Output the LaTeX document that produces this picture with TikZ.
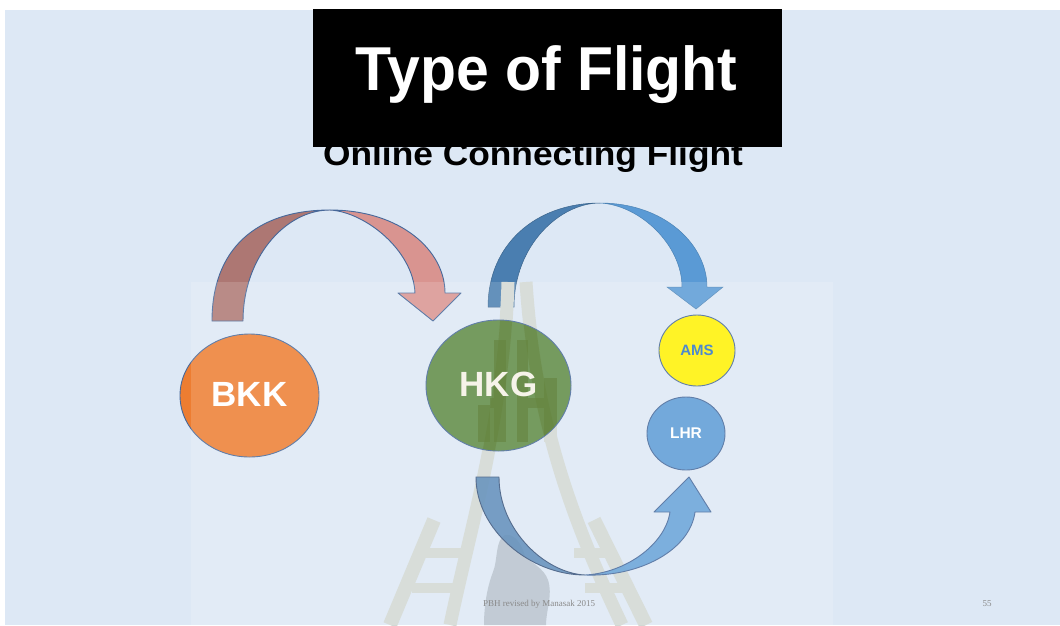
\documentclass[tikz,border=0pt]{standalone}
\usepackage{fontspec}
\setmainfont{Liberation Sans}
\newfontfamily\footfont{Liberation Serif}
\usetikzlibrary{shapes.geometric}
\definecolor{bg}{HTML}{DDE8F5}
\definecolor{redA}{HTML}{AD7773}
\definecolor{redB}{HTML}{D99490}
\definecolor{blueA}{HTML}{4A7EB0}
\definecolor{blueB}{HTML}{5A9AD5}
\definecolor{edge}{HTML}{46689A}
\definecolor{wm}{HTML}{D2D8D3}
\definecolor{darkbar}{HTML}{4A6E1C}
\definecolor{person}{HTML}{B8C3CE}
\definecolor{orangeC}{HTML}{ED7D31}
\definecolor{greenC}{HTML}{548235}
\definecolor{lhrC}{HTML}{5B9BD5}
\definecolor{amsT}{HTML}{2E75C6}
\definecolor{hkgT}{HTML}{F5F1E6}
\definecolor{footC}{HTML}{8A8A8A}
\tikzset{
  city/.style={ellipse, draw=edge, line width=0.9pt, inner sep=0pt, font=\bfseries},
  arrowpart/.style={draw=edge, line width=0.9pt, line join=round},
  rail/.style={draw=wm, line cap=butt},
  bar/.style={fill=wm}
}
\newcommand{\towerbars}{%
  \fill (478,405) rectangle (490,442);
  \fill (494,340) rectangle (506,442);
  \fill (517,340) rectangle (528,442);
  \fill (544,378) rectangle (557,442);
  \fill (490,398) rectangle (494,408);
  \fill (528,398) rectangle (544,408);
}
\begin{document}
\begin{tikzpicture}[x=1pt,y=-1pt]
\useasboundingbox (0,0) rectangle (1060,625);
\fill[white] (0,0) rectangle (1060,625);
\fill[bg] (5,10) rectangle (1060,625);

% subtitle (partly hidden by title box)
\node[anchor=base, inner sep=0pt, font=\bfseries\fontsize{33}{33}\selectfont] (sub) at (533,165) {\scalebox{1.07}[1]{Online Connecting Flight}};
% title box
\node[fill=black, minimum width=469pt, minimum height=138pt, inner sep=0pt] (titlebox) at (547.5,78) {};
\node[anchor=base, inner sep=0pt, text=white, font=\bfseries\fontsize{62}{62}\selectfont] (title) at (546.5,90) {\scalebox{0.95}[1]{Type of Flight}};

% red curved arrow BKK -> HKG
\path[arrowpart, fill=redA] (212,321) .. controls (212,250) and (255,210) .. (330,210)
   .. controls (285,210) and (243,258) .. (243,321) -- cycle;
\path[arrowpart, fill=redB] (330,210) .. controls (400,210) and (445,250) .. (445,293)
   -- (461,293) -- (433,321) -- (398,293) -- (415,293)
   .. controls (413,250) and (365,212) .. (330,210) -- cycle;

% upper blue arrow HKG -> AMS
\path[draw=blueA!80!black, line width=0.5pt, fill=blueA] (488,307) .. controls (488,245) and (535,203) .. (600,203)
   .. controls (560,203) and (514,245) .. (514,307) -- cycle;
\path[draw=blueB!85!black, line width=0.5pt, fill=blueB] (600,203) .. controls (665,203) and (707,245) .. (707,287)
   -- (723,287) -- (696,309) -- (667,287) -- (682,287)
   .. controls (682,245) and (640,205) .. (600,203) -- cycle;

% watermark tower
\draw[rail, line width=13pt] (508,282) .. controls (504,420) and (472,520) .. (450,625);
\draw[rail, line width=13pt] (526,282) .. controls (535,420) and (572,520) .. (622,625);
\draw[rail, line width=14pt] (434,520) -- (390,625);
\draw[rail, line width=14pt] (594,520) -- (646,625);
\draw[rail, line width=10pt] (425,553) -- (468,553);
\draw[rail, line width=10pt] (412,588) -- (460,588);
\draw[rail, line width=10pt] (574,553) -- (608,553);
\draw[rail, line width=10pt] (585,588) -- (626,588);
\begin{scope}[bar]
\towerbars
\end{scope}
% person silhouette
\fill[person] (505,535) .. controls (495,540) and (498,560) .. (493,572)
   .. controls (486,590) and (484,610) .. (484,625) -- (546,625)
   .. controls (546,610) and (553,595) .. (548,580)
   .. controls (544,568) and (530,562) .. (525,556)
   .. controls (522,545) and (515,533) .. (505,535) -- cycle;

% cities
\node[city, fill=orangeC, minimum width=139pt, minimum height=123pt, text=white, font=\bfseries\fontsize{35}{35}\selectfont] (bkk) at (249.5,395.5) {\raisebox{3pt}{BKK}};
\node[city, fill=greenC, fill opacity=0.92, text opacity=1, minimum width=145pt, minimum height=131pt] (hkg) at (498.5,385.5) {};
% tower seen through HKG
\begin{scope}
\clip (hkg.center) ellipse [x radius=72pt, y radius=65pt];
\begin{scope}[fill=darkbar, fill opacity=0.55]
\towerbars
\end{scope}
\draw[draw=darkbar, draw opacity=0.45, line width=12pt] (508,282) .. controls (504,420) and (472,520) .. (450,625);
\draw[draw=darkbar, draw opacity=0.45, line width=12pt] (526,282) .. controls (535,420) and (572,520) .. (622,625);
\end{scope}
\node[inner sep=0pt, text=hkgT, font=\bfseries\fontsize{35}{35}\selectfont] (hkgtext) at (hkg.center) {\raisebox{3pt}{HKG}};
\node[city, fill=yellow, minimum width=76pt, minimum height=71pt, text=amsT, font=\bfseries\fontsize{15}{15}\selectfont] (ams) at (697,350.5) {AMS};
\node[city, fill=lhrC, minimum width=78pt, minimum height=73pt, text=white, font=\bfseries\fontsize{15.5}{15.5}\selectfont] (lhr) at (686,433.5) {LHR};

% lower blue arrow HKG -> LHR
\path[arrowpart, draw=edge!80!black, fill=blueA, fill opacity=0.85] (476,477) .. controls (476,530) and (530,575) .. (585,575)
   .. controls (545,573) and (499,530) .. (499,477) -- cycle;
\path[arrowpart, draw=edge, fill=blueB, fill opacity=0.9] (585,575) .. controls (625,573) and (665,545) .. (670,512)
   -- (654,512) -- (689,477) -- (711,512) -- (695,512)
   .. controls (690,550) and (640,577) .. (585,575) -- cycle;

% light panel overlay
\fill[white, opacity=0.15] (191,282) rectangle (833,625);

% footer
\node[font=\footfont\fontsize{9}{9}\selectfont, text=footC, inner sep=0pt] (foot) at (539,604) {PBH revised by Manasak 2015};
\node[font=\footfont\fontsize{9}{9}\selectfont, text=footC, inner sep=0pt] (page) at (987,604) {55};
\end{tikzpicture}
\end{document}
